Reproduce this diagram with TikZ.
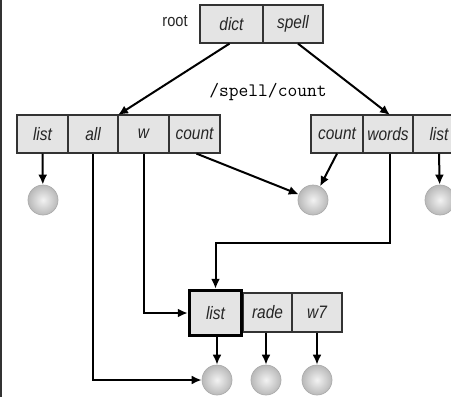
\documentclass[tikz,border=0pt]{standalone}
\usepackage{fontspec}
\setmainfont{Liberation Sans}
\newfontfamily\cellfont[FakeStretch=0.86]{Liberation Sans}
\usetikzlibrary{arrows.meta}
\definecolor{cellfill}{HTML}{E4E4E4}
\definecolor{cellline}{HTML}{333333}
\definecolor{celltext}{HTML}{262626}
\begin{document}
\begin{tikzpicture}[x=1pt,y=-1pt,
  cell/.style={draw=cellline,fill=cellfill,line width=1.2pt,inner sep=0pt,
    minimum height=38pt,text=celltext,font=\cellfont\fontsize{18}{20}\selectfont\itshape},
  ball/.style={circle,minimum size=30pt,inner sep=0pt,draw=gray!65,line width=0.7pt,
    inner color=gray!10,outer color=gray!55},
  arr/.style={line width=2pt,-{Latex[length=10pt,width=9pt]}},
  wire/.style={line width=2pt}]
\useasboundingbox (0,0) rectangle (451,397);
\clip (0,0) rectangle (451,397);
% frame line on the left edge
\draw[line width=1.4pt,cellline] (1,0) -- (1,397);

% root record
\node[cell,minimum width=63pt] (dict) at (231.5,24) {dict};
\node[cell,minimum width=60pt] (spell) at (293,24) {spell};
\node[text=celltext,font=\cellfont\fontsize{17}{19}\selectfont] (root) at (175,21) {root};

% left record (dict)
\node[cell,minimum width=51pt] (llist) at (42.5,134) {list};
\node[cell,minimum width=50pt] (lall) at (93,134) {all};
\node[cell,minimum width=51pt] (lw) at (143.5,134) {w};
\node[cell,minimum width=51pt] (lcount) at (194.5,134) {count};

% right record (spell)
\node[cell,minimum width=52pt] (rcount) at (337,134) {count};
\node[cell,minimum width=50pt] (rwords) at (388,134) {words};
\node[cell,minimum width=52pt] (rlist) at (439,134) {list};

% bottom record
\node[cell,minimum width=49pt,minimum height=39pt] (rade) at (267.5,312.5) {rade};
\node[cell,minimum width=50pt,minimum height=39pt] (wseven) at (317,312.5) {w7};
\node[cell,minimum width=52pt,minimum height=45pt,line width=3.5pt,draw=black] (blist) at (215.5,313) {list};

% path label
\node[font=\ttfamily\fontsize{19}{21}\selectfont] (path) at (268,92) {/spell/count};

% leaf objects
\node[ball] (b1) at (43,200) {};
\node[ball] (b2) at (313,200) {};
\node[ball] (b3) at (440,200) {};
\node[ball] (b4) at (217,380) {};
\node[ball] (b5) at (266,380) {};
\node[ball] (b6) at (317,380) {};

% references from the root record
\coordinate (lin) at (118,115);
\coordinate (rin) at (390,115);
\draw[arr] ([xshift=-2pt]dict.south) -- (lin);
\draw[arr] ([xshift=5pt]spell.south) -- (rin);

% references from the left record
\draw[arr] (llist.south) -- (b1);
\draw[arr] ([xshift=2pt]lcount.south) -- (b2);
\draw[arr] (lall.south) |- (b4);
\draw[arr] (lw.south) |- (blist.west);

% references from the right record
\draw[arr] (rcount.south) -- (b2);
\draw[arr] (rlist.south) -- (b3);
\coordinate (turn) at (390,243);
\draw[arr] ([xshift=2pt]rwords.south) -- (turn) -| (blist.north);

% references from the bottom record
\draw[arr] ([xshift=1.5pt]blist.south) -- (b4);
\draw[arr] ([xshift=-1.5pt]rade.south) -- (b5);
\draw[arr] (wseven.south) -- (b6);
\end{tikzpicture}
\end{document}
